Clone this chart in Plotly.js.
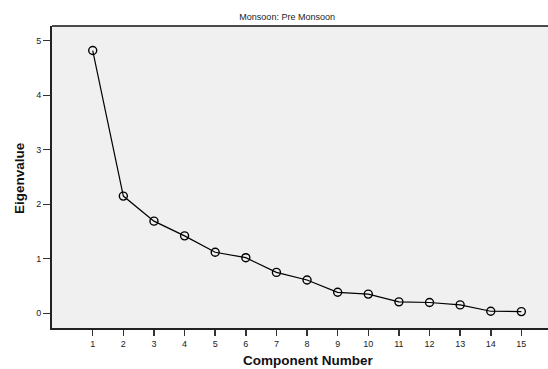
<!DOCTYPE html>
<html>
<head>
<meta charset="utf-8">
<script src="https://cdn.plot.ly/plotly-3.0.1.min.js"></script>
<style>html,body{margin:0;padding:0;background:#fff;}#chart{width:548px;height:369px;}</style>
</head>
<body>
<div id="chart"></div>
<script>
const components = [1,2,3,4,5,6,7,8,9,10,11,12,13,14,15];
const eigenvalues = [4.82,2.15,1.69,1.42,1.12,1.02,0.75,0.61,0.385,0.352,0.21,0.198,0.154,0.037,0.031];
const xTickLabels = ['1','2','3','4','5','6','7','8','9','10','11','12','13','14','15'];
const yTicks = [0,1,2,3,4,5];

const trace = {
  x: components,
  y: eigenvalues,
  type: 'scatter',
  mode: 'lines+markers',
  line: {color: '#000', width: 1.2},
  marker: {symbol: 'circle-open', size: 8, color: '#000', line: {width: 1.4, color: '#000'}},
  hoverinfo: 'none'
};

const layout = {
  width: 548, height: 369,
  margin: {l: 52, r: 0, t: 26, b: 41},
  paper_bgcolor: '#ffffff',
  plot_bgcolor: '#f0f0f0',
  font: {family: '"Liberation Sans", Arial, sans-serif', color: '#222', size: 9},
  showlegend: false,
  title: {text: 'Monsoon: Pre Monsoon', font: {size: 9, color: '#222'}, xref: 'container', x: 0.524, xanchor: 'center', yref: 'container', y: 0.953, yanchor: 'middle'},
  xaxis: {
    range: [-0.33, 15.87],
    tickmode: 'array', tickvals: components, ticktext: xTickLabels,
    showgrid: false, zeroline: false,
    showline: true, linecolor: '#222', linewidth: 2,
    ticks: 'outside', ticklen: 6, tickwidth: 1.5, tickcolor: '#333',
    tickfont: {size: 9, color: '#222'}
  },
  yaxis: {
    range: [-0.27, 5.27],
    tickmode: 'array', tickvals: yTicks, ticktext: yTicks.map(String),
    showgrid: false, zeroline: false,
    showline: true, linecolor: '#222', linewidth: 2,
    ticks: 'outside', ticklen: 7, tickwidth: 1.2, tickcolor: '#333',
    tickfont: {size: 9, color: '#222'}
  },
  annotations: [
    {text: '<b>Component Number</b>', xref: 'paper', yref: 'paper', x: (307.5 - 52) / 496, y: (328 - 360.5) / 302, xanchor: 'center', yanchor: 'middle', showarrow: false, font: {size: 13.5, color: '#111'}},
    {text: '<b>Eigenvalue</b>', xref: 'paper', yref: 'paper', x: (19 - 52) / 496, y: (328 - 178) / 302, xanchor: 'center', yanchor: 'middle', textangle: -90, showarrow: false, font: {size: 13.5, color: '#111'}}
  ],
  shapes: [{type: 'line', xref: 'paper', yref: 'paper', x0: 0, x1: 1, y0: 1, y1: 1, line: {color: '#111', width: 1.5}}]
};

Plotly.newPlot('chart', [trace], layout, {displayModeBar: false, staticPlot: true});
</script>
</body>
</html>
